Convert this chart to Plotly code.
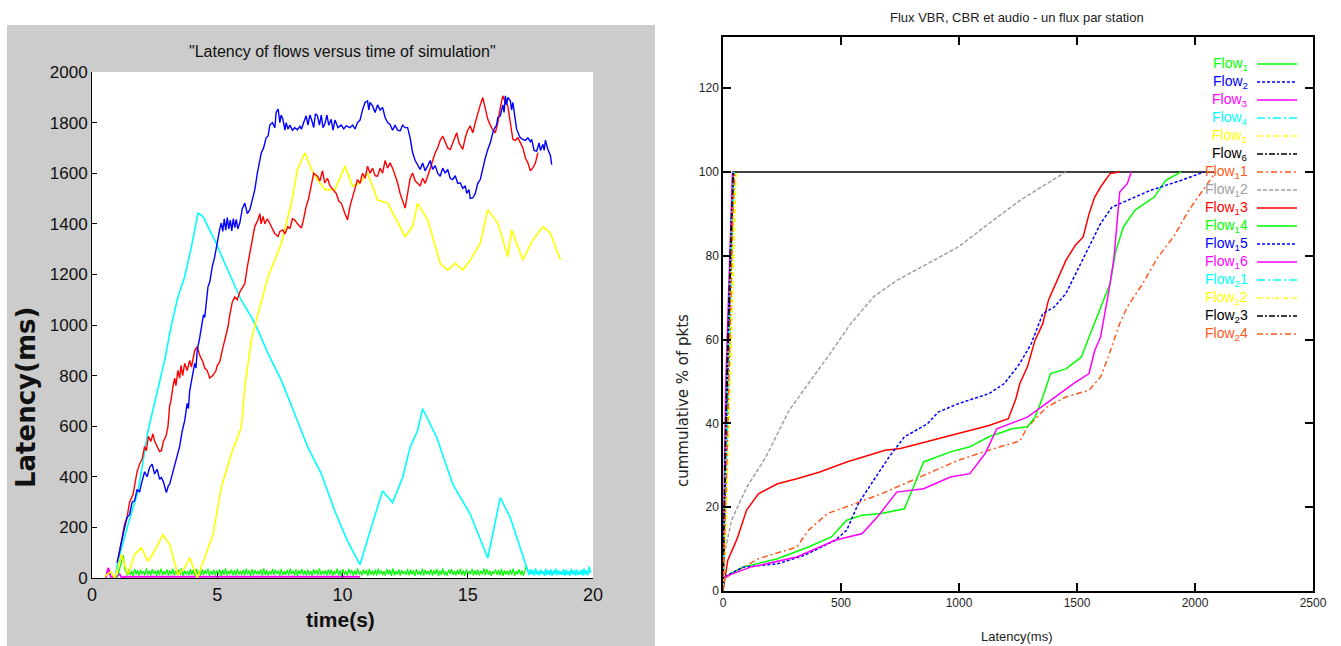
import numpy as np
import plotly.graph_objects as go

W, H = 1341, 646
def PX(x): return x / W
def PY(y): return 1 - y / H

# ---------------- LEFT CHART DATA (latency vs time) ----------------
time_ticks = [0, 5, 10, 15, 20]
lat_ticks = list(range(0, 2001, 200))

blue_t = [1.0, 1.1, 1.2, 1.3, 1.4, 1.5, 1.6, 1.7, 1.8, 1.9, 1.97, 2.1, 2.2, 2.3, 2.4, 2.5, 2.6, 2.7, 2.77, 2.85, 2.97, 3.05, 3.1, 3.2, 3.3, 3.43, 3.5, 3.6, 3.7, 3.8, 3.85, 3.9, 3.97, 4.05, 4.1, 4.15, 4.2, 4.3, 4.36, 4.45, 4.5, 4.6, 4.63, 4.7, 4.8, 4.9, 4.95, 5.03, 5.1, 5.16, 5.22, 5.28, 5.34, 5.4, 5.46, 5.52, 5.58, 5.64, 5.7, 5.76, 5.82, 5.9, 6.0, 6.1, 6.2, 6.3, 6.4, 6.5, 6.6, 6.7, 6.76, 6.85, 6.95, 7.03, 7.1, 7.2, 7.3, 7.35, 7.43, 7.5, 7.55, 7.62, 7.7, 7.75, 7.82, 7.9, 8.0, 8.09, 8.2, 8.3, 8.36, 8.45, 8.55, 8.62, 8.7, 8.76, 8.85, 8.92, 9.0, 9.08, 9.15, 9.22, 9.29, 9.38, 9.45, 9.55, 9.62, 9.7, 9.82, 9.95, 10.05, 10.15, 10.3, 10.4, 10.5, 10.6, 10.7, 10.8, 10.9, 11.0, 11.05, 11.1, 11.2, 11.3, 11.4, 11.5, 11.6, 11.7, 11.8, 11.9, 12.0, 12.1, 12.2, 12.3, 12.4, 12.5, 12.6, 12.7, 12.8, 12.9, 13.0, 13.1, 13.2, 13.3, 13.4, 13.5, 13.6, 13.7, 13.8, 13.9, 14.0, 14.1, 14.2, 14.3, 14.4, 14.5, 14.6, 14.7, 14.8, 14.9, 14.96, 15.05, 15.1, 15.2, 15.3, 15.4, 15.5, 15.6, 15.7, 15.8, 15.9, 16.0, 16.05, 16.15, 16.2, 16.3, 16.4, 16.45, 16.5, 16.55, 16.6, 16.7, 16.75, 16.8, 16.9, 16.95, 17.05, 17.1, 17.2, 17.3, 17.4, 17.5, 17.55, 17.65, 17.75, 17.85, 17.9, 18.0, 18.05, 18.1, 18.2, 18.25, 18.3, 18.35]
blue_v = [60, 110, 150, 199, 240, 250, 300, 305, 350, 340, 371, 420, 400, 437, 450, 411, 430, 390, 397, 380, 338, 365, 371, 410, 440, 490, 520, 580, 622, 690, 670, 740, 781, 820, 848, 830, 900, 950, 993, 1040, 1030, 1130, 1151, 1170, 1230, 1270, 1300, 1336, 1380, 1403, 1370, 1420, 1375, 1425, 1380, 1415, 1372, 1420, 1385, 1418, 1380, 1403, 1460, 1482, 1440, 1456, 1500, 1535, 1600, 1660, 1681, 1700, 1740, 1747, 1790, 1800, 1780, 1840, 1853, 1800, 1830, 1813, 1770, 1800, 1774, 1790, 1770, 1780, 1772, 1785, 1774, 1800, 1827, 1790, 1830, 1813, 1780, 1835, 1827, 1790, 1830, 1780, 1793, 1830, 1790, 1813, 1770, 1810, 1780, 1790, 1775, 1787, 1780, 1790, 1775, 1800, 1810, 1850, 1880, 1886, 1850, 1880, 1866, 1840, 1870, 1850, 1860, 1820, 1800, 1793, 1770, 1790, 1770, 1767, 1790, 1780, 1780, 1740, 1681, 1650, 1630, 1615, 1640, 1610, 1628, 1650, 1615, 1630, 1600, 1588, 1620, 1600, 1615, 1580, 1575, 1590, 1560, 1562, 1540, 1550, 1520, 1535, 1500, 1502, 1520, 1560, 1575, 1620, 1660, 1694, 1720, 1760, 1774, 1790, 1820, 1827, 1870, 1840, 1906, 1870, 1900, 1886, 1850, 1880, 1800, 1774, 1750, 1740, 1734, 1730, 1740, 1725, 1734, 1690, 1687, 1720, 1690, 1714, 1690, 1730, 1694, 1680, 1670, 1634]

red_t = [1.05, 1.15, 1.3, 1.4, 1.5, 1.64, 1.7, 1.8, 1.9, 2.0, 2.1, 2.17, 2.25, 2.35, 2.43, 2.5, 2.6, 2.7, 2.77, 2.85, 2.95, 3.03, 3.1, 3.15, 3.23, 3.3, 3.35, 3.43, 3.5, 3.55, 3.62, 3.7, 3.8, 3.9, 3.97, 4.05, 4.1, 4.2, 4.3, 4.43, 4.5, 4.6, 4.7, 4.83, 4.95, 5.0, 5.1, 5.2, 5.3, 5.43, 5.5, 5.6, 5.7, 5.8, 5.9, 6.0, 6.1, 6.2, 6.3, 6.36, 6.45, 6.5, 6.63, 6.7, 6.75, 6.83, 6.9, 7.0, 7.09, 7.2, 7.3, 7.43, 7.5, 7.62, 7.7, 7.82, 7.9, 8.0, 8.09, 8.2, 8.3, 8.36, 8.45, 8.55, 8.65, 8.76, 8.85, 9.0, 9.1, 9.2, 9.29, 9.4, 9.5, 9.62, 9.75, 9.85, 9.95, 10.1, 10.2, 10.3, 10.4, 10.5, 10.6, 10.7, 10.8, 10.9, 11.0, 11.1, 11.2, 11.3, 11.4, 11.5, 11.6, 11.7, 11.8, 11.9, 12.0, 12.1, 12.2, 12.3, 12.4, 12.5, 12.6, 12.7, 12.8, 12.9, 13.0, 13.1, 13.2, 13.3, 13.4, 13.5, 13.6, 13.7, 13.8, 13.9, 14.0, 14.1, 14.2, 14.3, 14.4, 14.5, 14.56, 14.65, 14.7, 14.8, 14.9, 15.0, 15.1, 15.2, 15.3, 15.4, 15.5, 15.6, 15.7, 15.8, 15.9, 16.0, 16.1, 16.2, 16.3, 16.4, 16.5, 16.6, 16.7, 16.8, 16.9, 17.0, 17.1, 17.2, 17.3, 17.4, 17.5, 17.6, 17.7, 17.8]
red_v = [80, 130, 212, 240, 300, 331, 370, 420, 450, 470, 520, 503, 560, 540, 570, 540, 520, 500, 503, 540, 560, 596, 680, 700, 755, 790, 760, 821, 790, 840, 800, 848, 820, 860, 834, 870, 900, 914, 880, 854, 830, 820, 790, 801, 820, 840, 854, 900, 940, 993, 1040, 1090, 1111, 1100, 1130, 1150, 1164, 1230, 1280, 1310, 1360, 1390, 1416, 1440, 1400, 1429, 1400, 1420, 1403, 1380, 1360, 1350, 1370, 1376, 1360, 1389, 1380, 1420, 1416, 1400, 1390, 1383, 1420, 1469, 1500, 1562, 1600, 1588, 1570, 1610, 1562, 1580, 1550, 1535, 1520, 1490, 1482, 1440, 1416, 1470, 1509, 1540, 1575, 1560, 1600, 1580, 1628, 1600, 1620, 1590, 1588, 1620, 1600, 1650, 1620, 1641, 1620, 1590, 1562, 1520, 1490, 1462, 1520, 1580, 1601, 1570, 1560, 1549, 1580, 1560, 1588, 1620, 1650, 1681, 1700, 1730, 1747, 1720, 1700, 1694, 1720, 1740, 1760, 1720, 1710, 1694, 1740, 1770, 1787, 1760, 1800, 1840, 1870, 1899, 1860, 1813, 1790, 1770, 1760, 1800, 1860, 1906, 1880, 1866, 1800, 1734, 1730, 1740, 1721, 1700, 1660, 1641, 1610, 1621, 1640, 1681]

cyan_t = [0.95, 1.04, 1.44, 1.84, 2.24, 2.63, 2.9, 3.17, 3.43, 3.7, 3.97, 4.23, 4.43, 4.63, 4.96, 5.3, 5.7, 5.96, 6.36, 6.63, 7.03, 7.56, 8.09, 8.62, 9.16, 9.69, 10.2, 10.7, 11.1, 11.6, 12.0, 12.4, 12.7, 13.0, 13.2, 13.76, 14.4, 15.1, 15.8, 16.3, 16.7, 17.35]
cyan_v = [20, 66, 212, 344, 583, 742, 861, 1000, 1111, 1191, 1310, 1442, 1429, 1389, 1323, 1244, 1151, 1098, 1032, 979, 887, 781, 649, 516, 411, 265, 146, 53, 185, 344, 298, 397, 517, 583, 669, 556, 371, 252, 79, 318, 238, 40]
cyan_tail_v = [25, 12, 35, 15, 30, 10, 38, 14, 28, 11, 33, 16, 27, 9, 36, 13, 31, 12, 34, 10, 29, 15, 37, 11, 30, 14, 26, 12, 35, 10,
               32, 13, 28, 9, 36, 15, 30, 11, 34, 12, 27, 14, 33, 10, 38, 13, 29, 11, 45, 20]

yellow_t = [0.5, 0.75, 0.9, 1.04, 1.17, 1.44, 1.7, 1.97, 2.24, 2.5, 2.83, 3.1, 3.43, 3.7, 3.9, 4.2, 4.5, 4.83, 5.16, 5.56, 5.96, 6.1, 6.36, 6.56, 7.03, 7.56, 7.96, 8.2, 8.5, 8.76, 9.0, 9.3, 9.7, 10.1, 10.4, 10.7, 11.0, 11.4, 11.8, 12.2, 12.5, 12.8, 13.0, 13.4, 13.9, 14.2, 14.5, 14.8, 15.1, 15.5, 15.8, 16.2, 16.6, 16.75, 17.2, 17.6, 18.0, 18.3, 18.7]
yellow_v = [5, 25, 0, 40, 93, 13, 93, 119, 66, 106, 172, 132, 13, 40, 80, 0, 80, 172, 358, 490, 596, 755, 940, 1020, 1191, 1323, 1482, 1615, 1681, 1615, 1575, 1535, 1535, 1628, 1549, 1562, 1601, 1495, 1482, 1403, 1350, 1389, 1482, 1416, 1244, 1217, 1244, 1217, 1257, 1323, 1456, 1403, 1270, 1376, 1257, 1336, 1389, 1363, 1257]

green_head_t = [1.0, 1.15, 1.25, 1.32]
green_head_v = [0, 60, 90, 30]
green_band_a = [30, 10, 34, 12, 28, 8, 36, 14, 31, 9, 33, 15, 27, 11, 38, 13, 29, 10, 35, 16, 30, 8, 32, 12, 37, 11, 28, 14, 34, 9,
                31, 13, 36, 10, 29, 15, 33, 12, 38, 9, 30, 14, 27, 11, 35, 13, 32, 8, 36, 15, 29, 10, 34, 12, 31, 16, 37, 9, 28, 13,
                33, 11, 30, 14, 35, 8, 32, 12, 38, 10, 29, 15, 34, 11, 31, 9, 36, 13, 28, 12, 33, 10, 37, 14, 30, 8, 35, 11, 32, 15,
                29, 13, 34, 9, 38, 12, 31, 10, 27, 14, 36, 11, 33, 16, 30, 9, 35, 12, 28, 13, 32, 10, 37, 15, 29, 11, 34, 8, 31, 14,
                36, 12, 30, 10, 33, 13, 28, 9, 35, 15, 32, 11, 38, 12, 29, 14, 31, 10, 34]
green_band_b = [12, 33, 9, 29, 14, 37, 11, 31, 8, 35, 13, 28, 10, 36, 15, 32, 9, 30, 12, 38, 14, 27, 10, 34, 16, 31, 8, 36, 13, 29,
                11, 33, 9, 37, 15, 30, 12, 28, 10, 35, 14, 32, 8, 38, 11, 29, 13, 34, 9, 31, 16, 27, 12, 36, 10, 33, 14, 30, 8, 35,
                13, 28, 11, 37, 9, 32, 15, 29, 12, 34, 10, 31, 14, 36, 8, 30, 13, 38, 11, 27, 9, 33, 16, 35, 12, 29, 10, 32, 14, 37,
                11, 30, 8, 34, 13, 28, 15, 36, 9, 31, 12, 33, 10, 29, 14, 38, 11, 35, 13, 30, 9, 27, 16, 34, 12, 32, 10, 36, 8, 31,
                14, 29, 11, 33, 13, 37, 9, 28, 15, 35, 12, 30, 10, 34, 48, 31]

magenta_t = [0.55, 0.65, 0.75, 0.9, 1.1, 1.2, 1.3, 10.7]
magenta_v = [0, 40, 5, 0, 15, 0, 5, 5]

# ---------------- RIGHT CHART DATA (CDF of latency) ----------------
lat_axis_ticks = [0, 500, 1000, 1500, 2000, 2500]
pct_axis_ticks = [0, 20, 40, 60, 80, 100, 120]

f1_lat = [0, 3, 8, 15, 25, 35, 42];        f1_pct = [0, 10, 25, 45, 65, 85, 100]
f2_lat = [0, 5, 12, 20, 30, 38, 44];       f2_pct = [0, 15, 30, 50, 75, 90, 100]
f3_lat = [0, 2, 6, 12, 22, 32, 40];        f3_pct = [0, 12, 30, 50, 70, 88, 100]
f4_lat = [0, 5, 12, 22, 32, 40, 48];       f4_pct = [0, 10, 30, 50, 70, 90, 100]
f5_lat = [0, 10, 20, 30, 40, 50, 56];      f5_pct = [0, 12, 30, 50, 70, 90, 100]
f6_lat = [0, 3, 10, 18, 28, 36, 45];       f6_pct = [0, 15, 35, 55, 75, 90, 100]
plateau_lat = [40, 2080];                  plateau_pct = [100, 100]
f11_lat = [0, 3, 150, 313, 362, 443, 557, 671, 769, 866, 997, 1127, 1258, 1290, 1372, 1453, 1551, 1600, 1632, 1681, 1713, 1778, 1843, 1909, 1974, 2023, 2088]
f11_pct = [0, 2.9, 7.7, 10.5, 14.5, 18.5, 20.8, 23.2, 25.6, 28, 31.2, 33.6, 35.8, 39.1, 43.9, 46.3, 47.9, 51.1, 55.8, 63.8, 67.8, 73.3, 79.7, 84.5, 90.9, 94.8, 100]
f12_lat = [0, 3, 36, 101, 182, 280, 362, 443, 541, 638, 736, 866, 997, 1127, 1258, 1372, 1453]
f12_pct = [0, 8.1, 16.9, 24.8, 32, 43.1, 49.5, 55.8, 63.8, 70.2, 74.1, 78.1, 82.1, 87.7, 93.2, 97.2, 100]
f13_lat = [0, 20, 60, 100, 150, 231, 313, 410, 524, 638, 687, 752, 834, 964, 1046, 1127, 1209, 1241, 1258, 1290, 1322, 1355, 1379, 1420, 1453, 1493, 1526, 1551, 1575, 1600, 1640, 1681]
f13_pct = [0, 7.3, 12.5, 19.3, 23.2, 25.6, 26.8, 28.4, 30.8, 32.8, 33.6, 34, 35.2, 37.2, 38.3, 39.5, 41.1, 45.9, 49.5, 53.5, 59.8, 63.8, 69.4, 74.9, 78.9, 82.5, 84.5, 90, 94, 96.4, 99.6, 100]
f14_lat = [0, 3, 85, 231, 362, 459, 524, 590, 671, 769, 801, 850, 964, 1046, 1127, 1225, 1290, 1322, 1355, 1388, 1453, 1518, 1551, 1600, 1640, 1665, 1697, 1746, 1827, 1876, 1941]
f14_pct = [0, 3.3, 5.7, 7.7, 10.5, 12.9, 16.9, 18.1, 18.5, 19.6, 24, 30.8, 33.2, 34.4, 36.8, 38.7, 39.2, 41.5, 46.3, 51.9, 53, 55.8, 60.6, 67.8, 73.3, 81.3, 86.9, 90.9, 94, 98, 100]
f15_lat = [0, 3, 85, 231, 345, 475, 524, 573, 638, 704, 769, 866, 912, 997, 1127, 1192, 1258, 1306, 1355, 1404, 1453, 1502, 1551, 1600, 1648, 1713, 1811, 1942, 2039]
f15_pct = [0, 3.3, 5.7, 6.5, 8.5, 12.1, 14.5, 20.8, 26.4, 32, 36.8, 39.9, 42.7, 44.7, 47.1, 49.5, 54.3, 59, 66.2, 67.8, 71, 76.5, 82.1, 87.7, 91.6, 93.2, 95.6, 98, 100]
f16_lat = [0, 3, 117, 313, 475, 590, 655, 736, 850, 964, 1046, 1111, 1160, 1290, 1388, 1485, 1551, 1575, 1600, 1624, 1640, 1657, 1681, 1713, 1730]
f16_pct = [0, 3.3, 5.7, 8.1, 12.1, 13.7, 17.7, 23.6, 24.4, 27.2, 28, 32.8, 38.7, 41.5, 45.5, 49.5, 51.9, 57.4, 60.6, 67.8, 73.3, 79.7, 95.2, 97.2, 100]
f21_lat = [0, 4, 10, 20, 30, 38, 46];      f21_pct = [0, 12, 28, 50, 72, 90, 100]
f22_lat = [0, 8, 18, 28, 38, 46, 54];      f22_pct = [0, 10, 28, 50, 72, 90, 100]
f23_lat = [0, 4, 10, 20, 30, 38, 44];      f23_pct = [0, 14, 32, 55, 76, 92, 100]
f24_lat = [0, 6, 15, 25, 34, 42, 50];      f24_pct = [0, 10, 28, 50, 72, 90, 100]

flow_labels = ["Flow<sub>1</sub>", "Flow<sub>2</sub>", "Flow<sub>3</sub>", "Flow<sub>4</sub>", "Flow<sub>5</sub>", "Flow<sub>6</sub>",
               "Flow<sub>1</sub>1", "Flow<sub>1</sub>2", "Flow<sub>1</sub>3", "Flow<sub>1</sub>4", "Flow<sub>1</sub>5", "Flow<sub>1</sub>6",
               "Flow<sub>2</sub>1", "Flow<sub>2</sub>2", "Flow<sub>2</sub>3", "Flow<sub>2</sub>4"]
flow_colors = ["#00ff00", "#0000ff", "#ff00ff", "#00ffff", "#ffff00", "#000000",
               "#ff5a1e", "#a0a0a0", "#ff0000", "#00ff00", "#0000ff", "#ff00ff",
               "#00ffff", "#ffff00", "#000000", "#ff5a1e"]
flow_dashes = ["solid", "3px,2px", "solid", "8px,3px,2px,3px", "4px,2px,1px,2px", "6px,2px,2px,2px",
               "6px,3px,2px,3px", "4px,2px", "solid", "solid", "3px,2px", "solid",
               "8px,3px,2px,3px", "4px,2px,1px,2px", "6px,2px,2px,2px", "6px,3px,2px,3px"]
flow_data = [(f1_lat, f1_pct), (f2_lat, f2_pct), (f3_lat, f3_pct), (f4_lat, f4_pct), (f5_lat, f5_pct), (f6_lat, f6_pct),
             (f11_lat, f11_pct), (f12_lat, f12_pct), (f13_lat, f13_pct), (f14_lat, f14_pct), (f15_lat, f15_pct), (f16_lat, f16_pct),
             (f21_lat, f21_pct), (f22_lat, f22_pct), (f23_lat, f23_pct), (f24_lat, f24_pct)]

# ---------------- FIGURE ----------------
fig = go.Figure()
LW = 1.4

green_band_v = green_band_a + green_band_b
green_band_t = np.linspace(1.35, 17.4, len(green_band_v))
cyan_tail_t = np.linspace(17.4, 19.9, len(cyan_tail_v))

fig.add_trace(go.Scatter(x=magenta_t, y=magenta_v, mode="lines", line=dict(color="#ff00ff", width=2), xaxis="x", yaxis="y"))
fig.add_trace(go.Scatter(x=list(green_head_t) + list(green_band_t), y=green_head_v + green_band_v, mode="lines",
                         line=dict(color="#00ff00", width=1.2), xaxis="x", yaxis="y"))
fig.add_trace(go.Scatter(x=list(cyan_t) + list(cyan_tail_t), y=cyan_v + cyan_tail_v, mode="lines",
                         line=dict(color="#00ffff", width=1.6), xaxis="x", yaxis="y"))
fig.add_trace(go.Scatter(x=yellow_t, y=yellow_v, mode="lines", line=dict(color="#ffff00", width=1.6), xaxis="x", yaxis="y"))
fig.add_trace(go.Scatter(x=red_t, y=red_v, mode="lines", line=dict(color="#ff0000", width=LW), xaxis="x", yaxis="y"))
fig.add_trace(go.Scatter(x=blue_t, y=blue_v, mode="lines", line=dict(color="#0000ff", width=LW), xaxis="x", yaxis="y"))

fig.add_trace(go.Scatter(x=plateau_lat, y=plateau_pct, mode="lines", line=dict(color="#000000", width=1.5),
                         xaxis="x2", yaxis="y2"))
order = [7, 6, 8, 9, 10, 11, 0, 1, 2, 3, 4, 5, 12, 13, 14, 15]
for i in order:
    lx, ly = flow_data[i]
    fig.add_trace(go.Scatter(x=lx, y=ly, mode="lines", name=flow_labels[i],
                             line=dict(color=flow_colors[i], width=1.5, dash=flow_dashes[i]),
                             xaxis="x2", yaxis="y2"))

shapes = [
    dict(type="rect", xref="paper", yref="paper", x0=PX(7), x1=PX(655), y0=0, y1=PY(25),
         fillcolor="#cccccc", line=dict(width=0), layer="below"),
    dict(type="rect", xref="x domain", yref="y domain", x0=0, x1=1, y0=0, y1=1,
         fillcolor="white", line=dict(width=0), layer="below"),
]
annotations = [
    dict(text='"Latency of flows versus time of simulation"', x=PX(342), y=PY(51), xref="paper", yref="paper",
         showarrow=False, font=dict(family="Liberation Sans, Arial", size=16, color="#111"), xanchor="center", yanchor="middle"),
    dict(text="<b>time(s)</b>", x=PX(340), y=PY(619), xref="paper", yref="paper", showarrow=False,
         font=dict(family="Liberation Sans, Arial", size=21, color="#111"), xanchor="center", yanchor="middle"),
    dict(text="<b>Latency(ms)</b>", x=PX(26), y=PY(398), xref="paper", yref="paper", showarrow=False, textangle=-90,
         font=dict(family="DejaVu Sans", size=26, color="#111"), xanchor="center", yanchor="middle"),
    dict(text="Flux VBR, CBR et audio - un flux par station", x=PX(1017), y=PY(18), xref="paper", yref="paper",
         showarrow=False, font=dict(family="Liberation Sans, Arial", size=13, color="#222"), xanchor="center", yanchor="middle"),
    dict(text="Latency(ms)", x=PX(1017), y=PY(636), xref="paper", yref="paper", showarrow=False,
         font=dict(family="Liberation Sans, Arial", size=13, color="#222"), xanchor="center", yanchor="middle"),
    dict(text="cummulative % of pkts", x=PX(683), y=PY(400), xref="paper", yref="paper", showarrow=False, textangle=-90,
         font=dict(family="DejaVu Sans", size=15, color="#222"), xanchor="center", yanchor="middle"),
]

# legend (text right-aligned, sample line to the right)
for k in range(len(flow_labels)):
    yk = 64 + 18 * k
    annotations.append(dict(text=flow_labels[k], x=PX(1250), y=PY(yk), xref="paper", yref="paper", showarrow=False,
                            xanchor="right", yanchor="middle",
                            font=dict(family="Liberation Sans, Arial", size=14, color=flow_colors[k])))
    shapes.append(dict(type="line", xref="paper", yref="paper", x0=PX(1257), x1=PX(1297), y0=PY(yk), y1=PY(yk),
                       line=dict(color=flow_colors[k], width=1.5, dash=flow_dashes[k])))

fig.update_layout(
    width=W, height=H, margin=dict(l=0, r=0, t=0, b=0, autoexpand=False),
    paper_bgcolor="white", plot_bgcolor="white", showlegend=False,
    shapes=shapes, annotations=annotations,
    xaxis=dict(domain=[PX(92), PX(593)], range=[0, 20], tickvals=time_ticks, anchor="y", automargin=False,
               ticks="inside", ticklen=5, tickcolor="black", showline=True, linecolor="black", linewidth=1,
               showgrid=False, zeroline=False, tickfont=dict(family="Liberation Sans, Arial", size=18, color="#111")),
    yaxis=dict(domain=[PY(578), PY(72)], range=[0, 2000], tickvals=lat_ticks, anchor="x", automargin=False,
               ticks="inside", ticklen=5, tickcolor="black", showline=True, linecolor="black", linewidth=1,
               showgrid=False, zeroline=False, tickfont=dict(family="Liberation Sans, Arial", size=17, color="#111")),
    xaxis2=dict(domain=[PX(723), PX(1313)], range=[0, 2500], tickvals=lat_axis_ticks, anchor="y2", automargin=False,
                ticks="inside", ticklen=8, tickcolor="black", tickwidth=1.5, showline=True, linecolor="black", linewidth=1.5,
                mirror="ticks", showgrid=False, zeroline=False,
                tickfont=dict(family="Liberation Sans, Arial", size=12, color="#222")),
    yaxis2=dict(domain=[PY(591), PY(37)], range=[0, 132.2], tickvals=pct_axis_ticks, anchor="x2", automargin=False,
                ticks="inside", ticklen=8, tickcolor="black", tickwidth=1.5, showline=True, linecolor="black", linewidth=1.5,
                mirror="ticks", showgrid=False, zeroline=False,
                tickfont=dict(family="Liberation Sans, Arial", size=12, color="#222")),
)

fig.write_html("out.html")
